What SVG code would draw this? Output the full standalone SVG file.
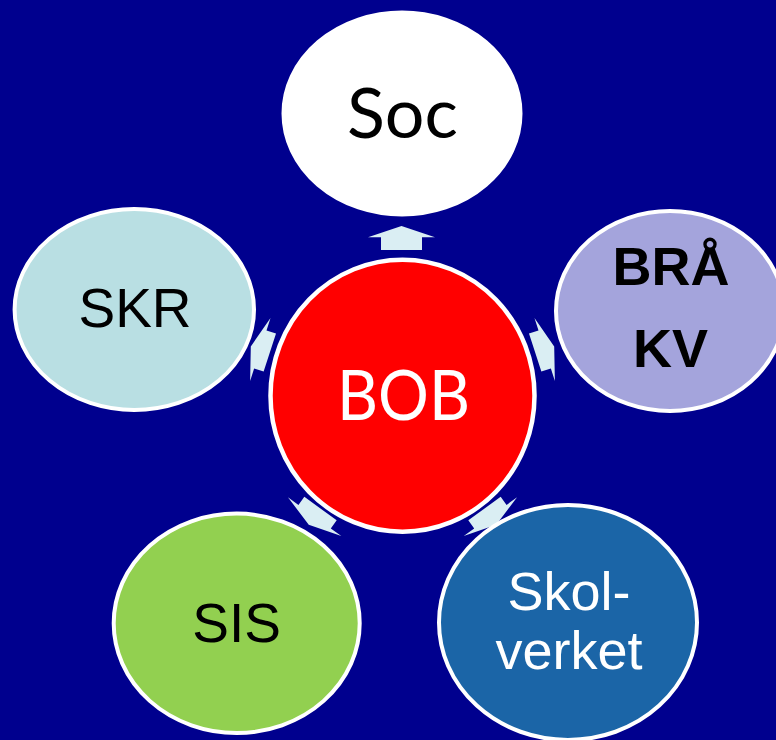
<svg xmlns="http://www.w3.org/2000/svg" width="776" height="740" viewBox="0 0 776 740">
  <style>
    .node { stroke: #FFFFFF; stroke-width: 4; }
    .sans { font-family: "Liberation Sans", Arial, sans-serif; text-anchor: middle; }
    .cal { font-family: Lato, "Open Sans", sans-serif; text-anchor: middle; }
    .arrow { fill: #DAEEF3; stroke: none; }
  </style>
  <defs>
    <polygon id="arr" points="-20,-139.5 -20,-149.5 -33,-149.5 0,-159.5 33,-149.5 20,-149.5 20,-139.5"/>
  </defs>
  <rect x="0" y="0" width="776" height="740" fill="#00008E"/>

  <g id="connectors" class="arrow">
    <polygon points="381,250 381,237.3 368,237.3 401.5,226 435,237.3 422,237.3 422,250"/>
    <use href="#arr" transform="translate(402.5,395.7) rotate(72)"/>
    <use href="#arr" transform="translate(402.5,395.7) rotate(144)"/>
    <use href="#arr" transform="translate(402.5,395.7) rotate(216)"/>
    <use href="#arr" transform="translate(402.5,395.7) rotate(288)"/>
  </g>

  <g id="soc">
    <ellipse class="node" cx="402" cy="113.5" rx="118.5" ry="101" fill="#FFFFFF"/>
    <text class="cal" x="402.5" y="138.3" font-size="70" fill="#000000">Soc</text>
  </g>

  <g id="bra-kv">
    <ellipse class="node" cx="670" cy="311" rx="114" ry="100" fill="#A4A4DC"/>
    <text class="sans" x="671" y="285" font-size="54" font-weight="bold" fill="#000000">BRÅ</text>
    <text class="sans" x="670.5" y="366.7" font-size="54" font-weight="bold" fill="#000000">KV</text>
  </g>

  <g id="skr">
    <ellipse class="node" cx="134.3" cy="309.5" rx="119.7" ry="100.5" fill="#B9DFE3"/>
    <text class="sans" x="135" y="326.7" font-size="55" fill="#000000">SKR</text>
  </g>

  <g id="sis">
    <ellipse class="node" cx="236.7" cy="623.3" rx="123" ry="109.7" fill="#92D050"/>
    <text class="sans" x="236.7" y="641.7" font-size="55" fill="#000000">SIS</text>
  </g>

  <g id="skolverket">
    <ellipse class="node" cx="568" cy="622.5" rx="129" ry="117.5" fill="#1B65A7"/>
    <text class="sans" x="569" y="610" font-size="54" fill="#FFFFFF">Skol-</text>
    <text class="sans" x="569" y="669.3" font-size="54" fill="#FFFFFF">verket</text>
  </g>

  <g id="bob">
    <ellipse cx="402.5" cy="395.7" rx="132" ry="136" fill="#FF0000" stroke="#FFFFFF" stroke-width="4.5"/>
    <text class="cal" x="403.5" y="420" font-size="70" fill="#FFFFFF" textLength="133" lengthAdjust="spacingAndGlyphs">BOB</text>
  </g>
</svg>
